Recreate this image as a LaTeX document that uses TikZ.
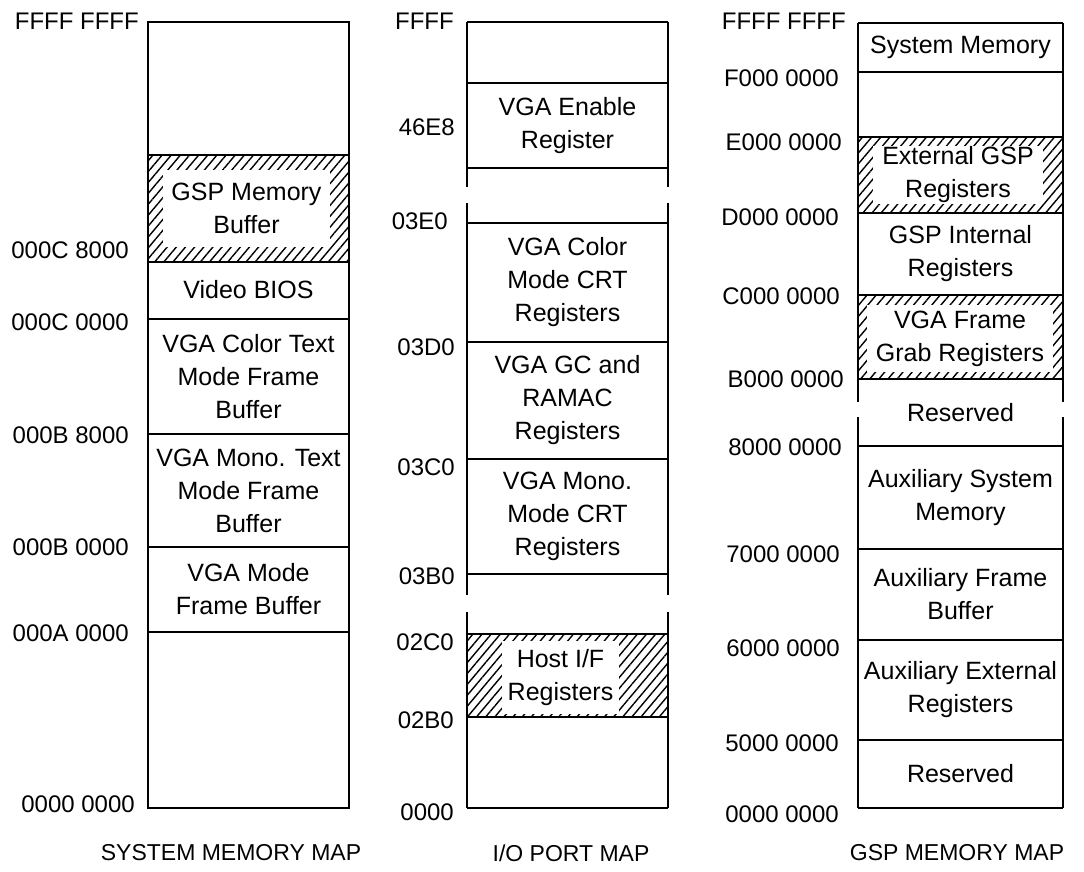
\documentclass[tikz,border=0pt]{standalone}
\usepackage{fontspec}
\setmainfont{Liberation Sans}
\usepackage{tikz}
\usetikzlibrary{patterns.meta}
\newcommand{\regionfont}{\fontsize{25}{33}\selectfont}
\newcommand{\addrfont}{\fontsize{24}{28}\selectfont}
\newcommand{\capfont}{\fontsize{23}{28}\selectfont}
\tikzset{
  mapline/.style={line width=1.8pt},
  hatched/.style={pattern={Lines[angle=50,distance=7pt,line width=1.4pt]}},
  region/.style={align=center,font=\regionfont,inner sep=0pt},
  clear/.style={fill=white,align=center,font=\regionfont,inner sep=0pt},
  addr/.style={anchor=east,font=\addrfont,inner sep=0pt},
  maptitle/.style={font=\capfont,inner sep=0pt}
}

\begin{document}
\begin{tikzpicture}[x=1pt,y=-1pt]
\useasboundingbox (0,0) rectangle (1084,871);

% system memory map
\fill[hatched] (148,155) rectangle (349,262);
\draw[mapline] (148,22) rectangle (349,808);
\draw[mapline] (148,155) -- (349,155);
\draw[mapline] (148,262) -- (349,262);
\draw[mapline] (148,319) -- (349,319);
\draw[mapline] (148,434) -- (349,434);
\draw[mapline] (148,547) -- (349,547);
\draw[mapline] (148,632) -- (349,632);

\node[clear, minimum width=167, minimum height=77] (gspbuf) at (246.5,208.5) {GSP Memory\\Buffer};
\node[region] (vbios) at (248.5,290) {Video BIOS};
\node[region] (colortext) at (248.5,376.5) {VGA Color Text\\Mode Frame\\Buffer};
\node[region] (monotext) at (248.5,490.5) {VGA Mono. Text\\Mode Frame\\Buffer};
\node[region] (vgamode) at (248.5,589.5) {VGA Mode\\Frame Buffer};

\node[addr] (s_ffff) at (139,21) {FFFF FFFF};
\node[addr] (s_c8) at (129,250) {000C 8000};
\node[addr] (s_c0) at (129,322) {000C 0000};
\node[addr] (s_b8) at (129,435) {000B 8000};
\node[addr] (s_b0) at (129,547) {000B 0000};
\node[addr] (s_a0) at (129,633) {000A 0000};
\node[addr] (s_zero) at (135,804) {0000 0000};
\node[maptitle] (sysmap) at (231,853) {SYSTEM MEMORY MAP};

% i/o port map
\fill[hatched] (467,634) rectangle (668,717);
\draw[mapline] (467,22) -- (668,22);
\draw[mapline] (467,808) -- (668,808);
\draw[mapline] (467,22) -- (467,187) (467,203) -- (467,595) (467,612) -- (467,808);
\draw[mapline] (668,22) -- (668,187) (668,203) -- (668,595) (668,612) -- (668,808);
\draw[mapline] (467,83) -- (668,83);
\draw[mapline] (467,168) -- (668,168);
\draw[mapline] (467,223) -- (668,223);
\draw[mapline] (467,342) -- (668,342);
\draw[mapline] (467,459) -- (668,459);
\draw[mapline] (467,574) -- (668,574);
\draw[mapline] (467,634) -- (668,634);
\draw[mapline] (467,717) -- (668,717);

\node[region] (enable) at (567.5,125.5) {VGA Enable\\Register};
\node[region] (colorcrt) at (567.5,282.5) {VGA Color\\Mode CRT\\Registers};
\node[region] (gcramac) at (567.5,400.5) {VGA GC and\\RAMAC\\Registers};
\node[region] (monocrt) at (567.5,516.5) {VGA Mono.\\Mode CRT\\Registers};
\node[clear, minimum width=117, minimum height=73] (hostif) at (560.5,677.5) {Host I/F\\Registers};

\node[addr] (p_ffff) at (454,21) {FFFF};
\node[addr] (p_46e8) at (455,127) {46E8};
\node[addr] (p_3e0) at (448,221) {03E0};
\node[addr] (p_3d0) at (455,347) {03D0};
\node[addr] (p_3c0) at (455,467) {03C0};
\node[addr] (p_3b0) at (455,576) {03B0};
\node[addr] (p_2c0) at (454,642) {02C0};
\node[addr] (p_2b0) at (454,720) {02B0};
\node[addr] (p_zero) at (454,812) {0000};
\node[maptitle] (iomap) at (571,853) {I/O PORT MAP};

% gsp memory map
\fill[hatched] (858,137) rectangle (1063,213);
\fill[hatched] (858,295) rectangle (1063,379);
\draw[mapline] (858,23) -- (1063,23);
\draw[mapline] (858,808) -- (1063,808);
\draw[mapline] (858,23) -- (858,402) (858,417) -- (858,808);
\draw[mapline] (1063,23) -- (1063,402) (1063,417) -- (1063,808);
\draw[mapline] (858,72) -- (1063,72);
\draw[mapline] (858,137) -- (1063,137);
\draw[mapline] (858,213) -- (1063,213);
\draw[mapline] (858,295) -- (1063,295);
\draw[mapline] (858,379) -- (1063,379);
\draw[mapline] (858,446) -- (1063,446);
\draw[mapline] (858,549) -- (1063,549);
\draw[mapline] (858,640) -- (1063,640);
\draw[mapline] (858,740) -- (1063,740);

\node[region] (sysmem) at (960.5,47.5) {System Memory};
\node[clear, minimum width=170, minimum height=58] (extgsp) at (958,175) {External GSP\\Registers};
\node[region] (gspint) at (960.5,254) {GSP Internal\\Registers};
\node[clear, minimum width=186, minimum height=67] (framegrab) at (960,338.5) {VGA Frame\\Grab Registers};
\node[region] (rsvhigh) at (960.5,412.5) {Reserved};
\node[region] (auxsys) at (960.5,497.5) {Auxiliary System\\Memory};
\node[region] (auxfb) at (960.5,594.5) {Auxiliary Frame\\Buffer};
\node[region] (auxext) at (960.5,690) {Auxiliary External\\Registers};
\node[region] (rsvlow) at (960.5,774) {Reserved};

\node[addr] (g_ffff) at (846,21) {FFFF FFFF};
\node[addr] (g_f) at (839,78) {F000 0000};
\node[addr] (g_e) at (842,142) {E000 0000};
\node[addr] (g_d) at (839,217) {D000 0000};
\node[addr] (g_c) at (840,296) {C000 0000};
\node[addr] (g_b) at (844,379) {B000 0000};
\node[addr] (g_8) at (842,447) {8000 0000};
\node[addr] (g_7) at (840,554) {7000 0000};
\node[addr] (g_6) at (840,648) {6000 0000};
\node[addr] (g_5) at (839,743) {5000 0000};
\node[addr] (g_zero) at (839,814) {0000 0000};
\node[maptitle] (gspmap) at (957,853) {GSP MEMORY MAP};
\end{tikzpicture}
\end{document}
